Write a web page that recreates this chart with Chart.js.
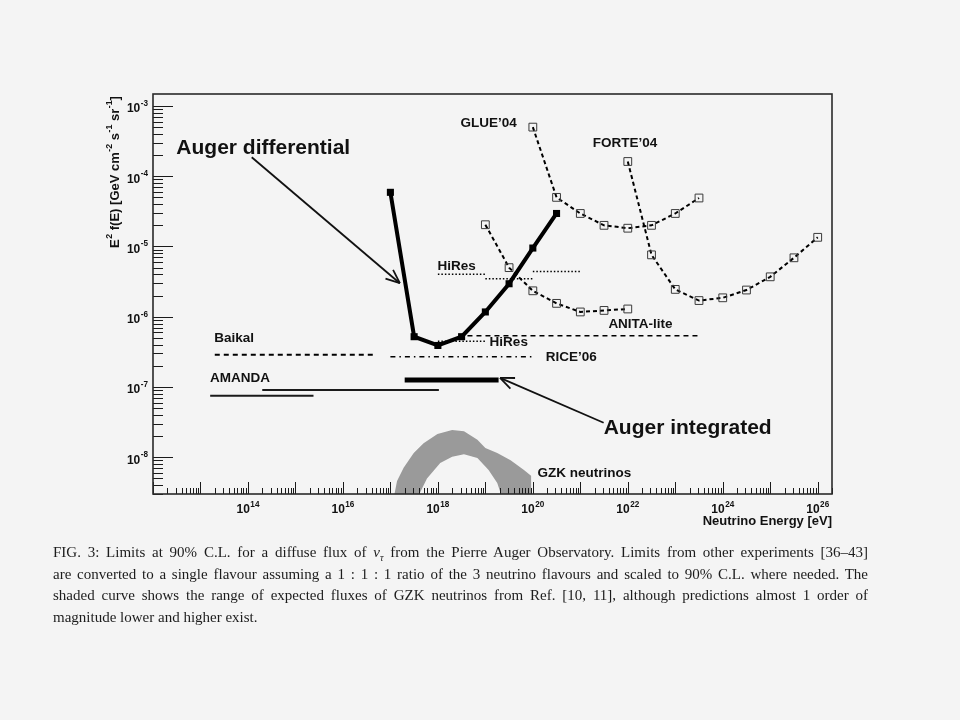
<!DOCTYPE html>
<html>
<head>
<meta charset="utf-8">
<script src="https://cdn.jsdelivr.net/npm/chart.js@4.4.1/dist/chart.umd.min.js"></script>
<style>
  html, body { margin: 0; padding: 0; background: #f4f4f4; }
  #wrap { position: relative; width: 960px; height: 720px; overflow: hidden; }
  #chart { position: absolute; left: 0; top: 0; }
  #caption { position: absolute; left: 53px; top: 542px; width: 815px;
    font-family: "Liberation Serif", "DejaVu Serif", serif; font-size: 15px; color: #1c1c1c; }
  #caption div { white-space: nowrap; height: 21.7px; line-height: 21.7px; }
  #caption sub { font-size: 10px; line-height: 0; }
</style>
</head>
<body>
<div id="wrap">
  <canvas id="chart" width="960" height="720"></canvas>
  <div id="caption">
    <div class="just"><span>FIG. 3: Limits at 90% C.L. for a diffuse flux of <i>ν</i><sub><i>τ</i></sub> from the Pierre Auger Observatory. Limits from other experiments [36–43]</span></div>
    <div class="just"><span>are converted to a single flavour assuming a 1 : 1 : 1 ratio of the 3 neutrino flavours and scaled to 90% C.L. where needed. The</span></div>
    <div class="just"><span>shaded curve shows the range of expected fluxes of GZK neutrinos from Ref. [10, 11], although predictions almost 1 order of</span></div>
    <div><span>magnitude lower and higher exist.</span></div>
  </div>
</div>
<script>
'use strict';

// energies in eV, fluxes in GeV cm^-2 s^-1 sr^-1
const augerDiffE = [1e17, 3.16e17, 1e18, 3.16e18, 1e19, 3.16e19, 1e20, 3.16e20];
const augerDiffF = [5.9e-5, 5.2e-7, 3.9e-7, 5.2e-7, 1.17e-6, 2.95e-6, 9.5e-6, 2.95e-5];

const augerIntE = [2e17, 1.9e19];
const augerIntF = [1.26e-7, 1.26e-7];

const glueE = [1e20, 3.16e20, 1e21, 3.16e21, 1e22, 3.16e22, 1e23, 3.16e23];
const glueF = [5.0e-4, 5.0e-5, 2.95e-5, 2.0e-5, 1.82e-5, 2.0e-5, 2.95e-5, 4.9e-5];

const forteE = [1e22, 3.16e22, 1e23, 3.16e23, 1e24, 3.16e24, 1e25, 3.16e25, 1e26];
const forteF = [1.62e-4, 7.6e-6, 2.45e-6, 1.7e-6, 1.86e-6, 2.4e-6, 3.7e-6, 6.9e-6, 1.35e-5];

const anitaE = [1e19, 3.16e19, 1e20, 3.16e20, 1e21, 3.16e21, 1e22];
const anitaF = [2.04e-5, 5.0e-6, 2.34e-6, 1.55e-6, 1.17e-6, 1.23e-6, 1.29e-6];

// step line, null = break
const hiresUpE = [1e18, 1e19, 1e19, 1e19, 1e20, 1e20, 1e20, 1.07e21];
const hiresUpF = [4.04e-6, 4.04e-6, null, 3.47e-6, 3.47e-6, null, 4.4e-6, 4.4e-6];

const hiresLowE = [1e18, 1e19];
const hiresLowF = [4.47e-7, 4.47e-7];

const dashedE = [4.2e18, 3.5e23];
const dashedF = [5.37e-7, 5.37e-7];

const riceE = [1e17, 1.05e20];
const riceF = [2.69e-7, 2.69e-7];

const baikalE = [2e13, 4.8e16];
const baikalF = [2.88e-7, 2.88e-7];

const amandaAE = [2e14, 1.05e18];
const amandaAF = [9.1e-8, 9.1e-8];
const amandaBE = [1.6e13, 2.4e15];
const amandaBF = [7.5e-8, 7.5e-8];

const gzkHiE = [8.9e16, 1.38e17, 1.9e17, 3.1e17, 5.0e17, 9.8e17, 2.0e18, 3.55e18, 6.8e18, 1.0e19, 1.78e19, 3.4e19, 6.5e19, 9.3e19, 9.3e19];
const gzkHiF = [1e-9, 4.6e-9, 7.1e-9, 1.15e-8, 1.58e-8, 2.14e-8, 2.45e-8, 2.34e-8, 1.78e-8, 1.35e-8, 1.15e-8, 9.1e-9, 6.6e-9, 5.4e-9, 1e-9];
const gzkLoE = [8.9e16, 2.8e17, 5.9e17, 1.12e18, 2.0e18, 3.55e18, 6.8e18, 1.17e19, 1.78e19, 2.6e19, 9.3e19];
const gzkLoF = [1e-10, 1.8e-9, 5.0e-9, 8.3e-9, 1.02e-8, 1.1e-8, 9.8e-9, 6.6e-9, 4.3e-9, 2e-9, 1e-10];

const xTickExps = [14, 16, 18, 20, 22, 24, 26];
const yTickExps = [-8, -7, -6, -5, -4, -3];

// text labels anchored in data coordinates (left edge, vertical centre)
const labels = [
  { text: 'Auger differential', x: 3.1e12, y: 2.5e-4, size: 21 },
  { text: 'Auger integrated', x: 3.1e21, y: 2.6e-8, size: 21 },
  { text: 'GLUE\u201904', x: 3.0e18, y: 5.75e-4, size: 13.5 },
  { text: 'FORTE\u201904', x: 1.82e21, y: 2.95e-4, size: 13.5 },
  { text: 'HiRes', x: 9.8e17, y: 5.25e-6, size: 13.5 },
  { text: 'HiRes', x: 1.23e19, y: 4.27e-7, size: 13.5 },
  { text: 'ANITA-lite', x: 3.9e21, y: 7.9e-7, size: 13.5 },
  { text: 'RICE\u201906', x: 1.86e20, y: 2.63e-7, size: 13.5 },
  { text: 'Baikal', x: 1.95e13, y: 4.9e-7, size: 13.5 },
  { text: 'AMANDA', x: 1.58e13, y: 1.32e-7, size: 13.5 },
  { text: 'GZK neutrinos', x: 1.26e20, y: 6.0e-9, size: 13.5 }
];

const arrows = [
  { x0: 1.2e14, y0: 1.86e-4, x1: 1.58e17, y1: 3.0e-6 },
  { x0: 3.1e21, y0: 3.1e-8, x1: 2.04e19, y1: 1.35e-7 }
];

function pts(xs, ys) {
  return xs.map((v, i) => ({ x: v, y: ys[i] }));
}

const FONT = '"Liberation Sans", Arial, sans-serif';

function line(ctx, x0, y0, x1, y1) {
  ctx.beginPath();
  ctx.moveTo(x0, y0);
  ctx.lineTo(x1, y1);
  ctx.stroke();
}

// parts: [text, isSuperscript]
function richText(ctx, parts, x, y, align, size) {
  const widths = parts.map(p => {
    ctx.font = 'bold ' + (p[1] ? size * 0.68 : size) + 'px ' + FONT;
    return ctx.measureText(p[0]).width + (p[1] ? 0.5 : 0);
  });
  const total = widths.reduce((a, b) => a + b, 0);
  let cx = align === 'center' ? x - total / 2 : align === 'right' ? x - total : x;
  ctx.textAlign = 'left';
  ctx.textBaseline = 'middle';
  parts.forEach((p, i) => {
    ctx.font = 'bold ' + (p[1] ? size * 0.68 : size) + 'px ' + FONT;
    ctx.fillText(p[0], cx + (p[1] ? 0.5 : 0), p[1] ? y - size * 0.45 : y);
    cx += widths[i];
  });
}

const decorations = {
  id: 'decorations',
  afterDraw(chart) {
    const { ctx, chartArea: a, scales: { x, y } } = chart;
    ctx.save();
    ctx.strokeStyle = '#1a1a1a';
    ctx.fillStyle = '#111';
    ctx.lineWidth = 1;

    // x ticks, inside the frame
    for (let d = 12; d <= 26; d++) {
      for (let k = 1; k <= 9; k++) {
        const v = k * Math.pow(10, d);
        if (v > x.max) break;
        const px = Math.round(x.getPixelForValue(v)) + 0.5;
        line(ctx, px, a.bottom, px, a.bottom - (k === 1 ? 12 : 6));
      }
    }
    // y ticks
    for (let d = -9; d <= -3; d++) {
      for (let k = 1; k <= 9; k++) {
        const v = k * Math.pow(10, d);
        if (v < y.min) continue;
        if (v > y.max) break;
        const py = Math.round(y.getPixelForValue(v)) + 0.5;
        line(ctx, a.left, py, a.left + (k === 1 ? 20 : 10), py);
      }
    }

    // frame
    ctx.lineWidth = 1.6;
    ctx.strokeStyle = '#2a2a2a';
    ctx.strokeRect(a.left, a.top, a.right - a.left, a.bottom - a.top);

    // tick labels
    xTickExps.forEach(e => {
      const px = x.getPixelForValue(Math.pow(10, e));
      richText(ctx, [['10', 0], [String(e), 1]], px, a.bottom + 16, 'center', 12);
    });
    yTickExps.forEach(e => {
      const py = y.getPixelForValue(Math.pow(10, e));
      richText(ctx, [['10', 0], [String(e), 1]], a.left - 5, py + 3, 'right', 12);
    });

    // axis titles
    richText(ctx, [['Neutrino Energy [eV]', 0]], a.right, a.bottom + 27, 'right', 13);
    ctx.save();
    ctx.translate(115, (a.top + 250) / 2);
    ctx.rotate(-Math.PI / 2);
    richText(ctx, [['E', 0], ['2', 1], [' f(E) [GeV cm', 0], ['-2', 1], [' s', 0], ['-1', 1],
      [' sr', 0], ['-1', 1], [']', 0]], 0, 0, 'center', 13);
    ctx.restore();

    // labels
    labels.forEach(l => {
      richText(ctx, [[l.text, 0]], x.getPixelForValue(l.x), y.getPixelForValue(l.y), 'left', l.size);
    });

    // arrows
    ctx.strokeStyle = '#111';
    ctx.lineWidth = 1.8;
    arrows.forEach(ar => {
      const x0 = x.getPixelForValue(ar.x0), y0 = y.getPixelForValue(ar.y0);
      const x1 = x.getPixelForValue(ar.x1), y1 = y.getPixelForValue(ar.y1);
      line(ctx, x0, y0, x1, y1);
      const ang = Math.atan2(y1 - y0, x1 - x0);
      [0.4, -0.4].forEach(da => {
        line(ctx, x1, y1, x1 - 15 * Math.cos(ang + da), y1 - 15 * Math.sin(ang + da));
      });
    });
    ctx.restore();
  }
};

const openSquares = {
  pointStyle: 'rect', pointRadius: 5.5, pointBorderWidth: 1,
  pointBorderColor: '#3a3a3a', pointBackgroundColor: 'rgba(0,0,0,0)',
  borderColor: '#000', borderWidth: 2, borderDash: [4, 3]
};
const plain = { pointRadius: 0, borderColor: '#000' };

new Chart(document.getElementById('chart'), {
  type: 'line',
  data: {
    datasets: [
      { label: 'Auger differential', data: pts(augerDiffE, augerDiffF), borderColor: '#000', borderWidth: 4,
        pointStyle: 'rect', pointRadius: 5, pointBackgroundColor: '#000', pointBorderWidth: 0 },
      { label: 'Auger integrated', data: pts(augerIntE, augerIntF), ...plain, borderWidth: 5 },
      { label: 'GLUE\u201904', data: pts(glueE, glueF), ...openSquares },
      { label: 'FORTE\u201904', data: pts(forteE, forteF), ...openSquares },
      { label: 'ANITA-lite', data: pts(anitaE, anitaF), ...openSquares },
      { label: 'HiRes', data: pts(hiresUpE, hiresUpF), ...plain, borderWidth: 1.5, borderDash: [1.5, 2] },
      { label: 'HiRes', data: pts(hiresLowE, hiresLowF), ...plain, borderWidth: 1.5, borderDash: [1.5, 2] },
      { label: 'dashed limit', data: pts(dashedE, dashedF), ...plain, borderWidth: 1.5, borderDash: [5, 4] },
      { label: 'RICE\u201906', data: pts(riceE, riceF), ...plain, borderWidth: 1.5, borderDash: [5, 4, 1.5, 4] },
      { label: 'Baikal', data: pts(baikalE, baikalF), ...plain, borderWidth: 2, borderDash: [5, 4] },
      { label: 'AMANDA', data: pts(amandaAE, amandaAF), ...plain, borderWidth: 2, borderColor: '#1a1a1a' },
      { label: 'AMANDA', data: pts(amandaBE, amandaBF), ...plain, borderWidth: 2, borderColor: '#1a1a1a' },
      { label: 'GZK upper', data: pts(gzkHiE, gzkHiF), pointRadius: 0, borderWidth: 0,
        borderColor: 'rgba(0,0,0,0)', backgroundColor: '#9a9a9a', fill: '+1' },
      { label: 'GZK lower', data: pts(gzkLoE, gzkLoF), pointRadius: 0, borderWidth: 0,
        borderColor: 'rgba(0,0,0,0)' }
    ]
  },
  options: {
    responsive: false,
    devicePixelRatio: 1,
    animation: false,
    layout: { padding: { left: 153, right: 128, top: 94, bottom: 226 } },
    elements: { line: { tension: 0 } },
    plugins: { legend: { display: false }, tooltip: { enabled: false } },
    scales: {
      x: { type: 'logarithmic', min: 1e12, max: 2e26, display: false },
      y: { type: 'logarithmic', min: 3.0e-9, max: 1.48e-3, display: false }
    }
  },
  plugins: [decorations]
});

// justify caption lines to the text block width
document.querySelectorAll('#caption .just').forEach(div => {
  const span = div.firstElementChild;
  const natural = span.getBoundingClientRect().width;
  const spaces = (span.textContent.match(/ /g) || []).length;
  if (spaces) span.style.wordSpacing = ((815 - natural) / spaces) + 'px';
});
</script>
</body>
</html>
